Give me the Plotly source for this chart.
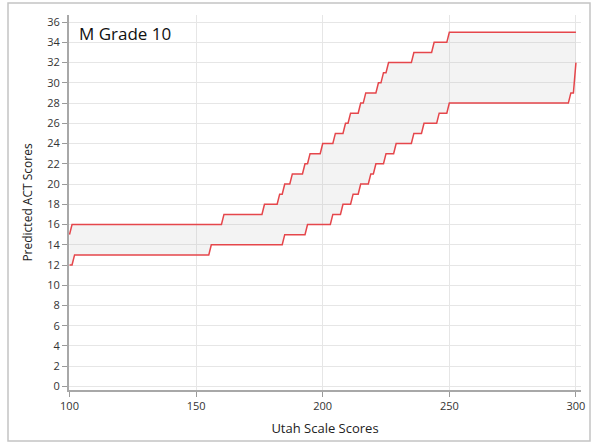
import plotly.graph_objects as go

# Step break points: scale score where a new predicted ACT value begins
upper_breaks = [100, 101, 161, 177, 183, 185, 188, 193, 195, 200, 205, 209, 211,
                215, 217, 222, 224, 226, 236, 244, 250, 300]
upper_values = [15, 16, 17, 18, 19, 20, 21, 22, 23, 24, 25, 26, 27,
                28, 29, 30, 31, 32, 33, 34, 35, 35]

lower_breaks = [100, 102, 156, 185, 194, 204, 208, 212, 215, 219, 221, 225, 229,
                236, 240, 246, 250, 298, 300]
lower_values = [12, 13, 14, 15, 16, 17, 18, 19, 20, 21, 22, 23, 24,
                25, 26, 27, 28, 29, 32]

x_ticks = [100, 150, 200, 250, 300]
y_ticks = list(range(0, 37, 2))


def step_points(breaks, values):
    xs, ys = [], []
    for i, (b, v) in enumerate(zip(breaks, values)):
        xs.append(b)
        ys.append(v)
        if i + 1 < len(breaks) and breaks[i + 1] - 1 > b:
            xs.append(breaks[i + 1] - 1)
            ys.append(v)
    return xs, ys


lx, ly = step_points(lower_breaks, lower_values)
ux, uy = step_points(upper_breaks, upper_values)

red = "#e5464b"
fig = go.Figure()
fig.add_trace(go.Scatter(x=lx, y=ly, mode="lines", line=dict(color=red, width=1.5),
                         showlegend=False, hoverinfo="skip"))
fig.add_trace(go.Scatter(x=ux, y=uy, mode="lines", line=dict(color=red, width=1.5),
                         fill="tonexty", fillcolor="rgba(190,190,190,0.18)",
                         showlegend=False, hoverinfo="skip"))

font_family = "Open Sans, Noto Sans, sans-serif"
L, R, T, B = 69, 15, 15, 55
W, H = 596, 445
pw, ph = W - L - R, H - T - B


def px_x(p):
    return (p - L) / pw


def px_y(p):
    return (H - B - p) / ph


fig.update_layout(
    width=W, height=H,
    margin=dict(l=L, r=R, t=T, b=B, autoexpand=False),
    paper_bgcolor="white", plot_bgcolor="white",
    font=dict(family=font_family, size=11, color="#333333"),
    xaxis=dict(range=[99.8, 302], tickvals=x_ticks, ticks="outside", ticklen=5,
               tickcolor="#9a9a9a", showline=True, linecolor="#a8a8a8", linewidth=2,
               showgrid=True, gridcolor="#e6e6e6", gridwidth=1, zeroline=False,
               title=dict(text="Utah Scale Scores", font=dict(size=13, color="#222"), standoff=12),
               tickfont=dict(size=11, color="#333")),
    yaxis=dict(range=[-0.35, 36.7], tickvals=y_ticks, ticks="outside", ticklen=5,
               tickcolor="#9a9a9a", showline=True, linecolor="#a8a8a8", linewidth=2,
               showgrid=True, gridcolor="#e6e6e6", gridwidth=1, zeroline=False,
               title=dict(text="Predicted ACT Scores", font=dict(size=12, color="#222"), standoff=12),
               tickfont=dict(size=11, color="#333")),
    annotations=[dict(text="M Grade 10", x=px_x(77), y=px_y(34), xref="paper", yref="paper",
                      xanchor="left", yanchor="middle", showarrow=False,
                      font=dict(size=17, color="#111", family=font_family))],
    shapes=[dict(type="rect", xref="paper", yref="paper",
                 x0=px_x(8), x1=px_x(590), y0=px_y(441), y1=px_y(3),
                 line=dict(color="#c4c4c4", width=1.5), layer="below")],
)

fig.write_html("out.html", config={"displayModeBar": False},
               post_script="document.body.style.margin='0';")
